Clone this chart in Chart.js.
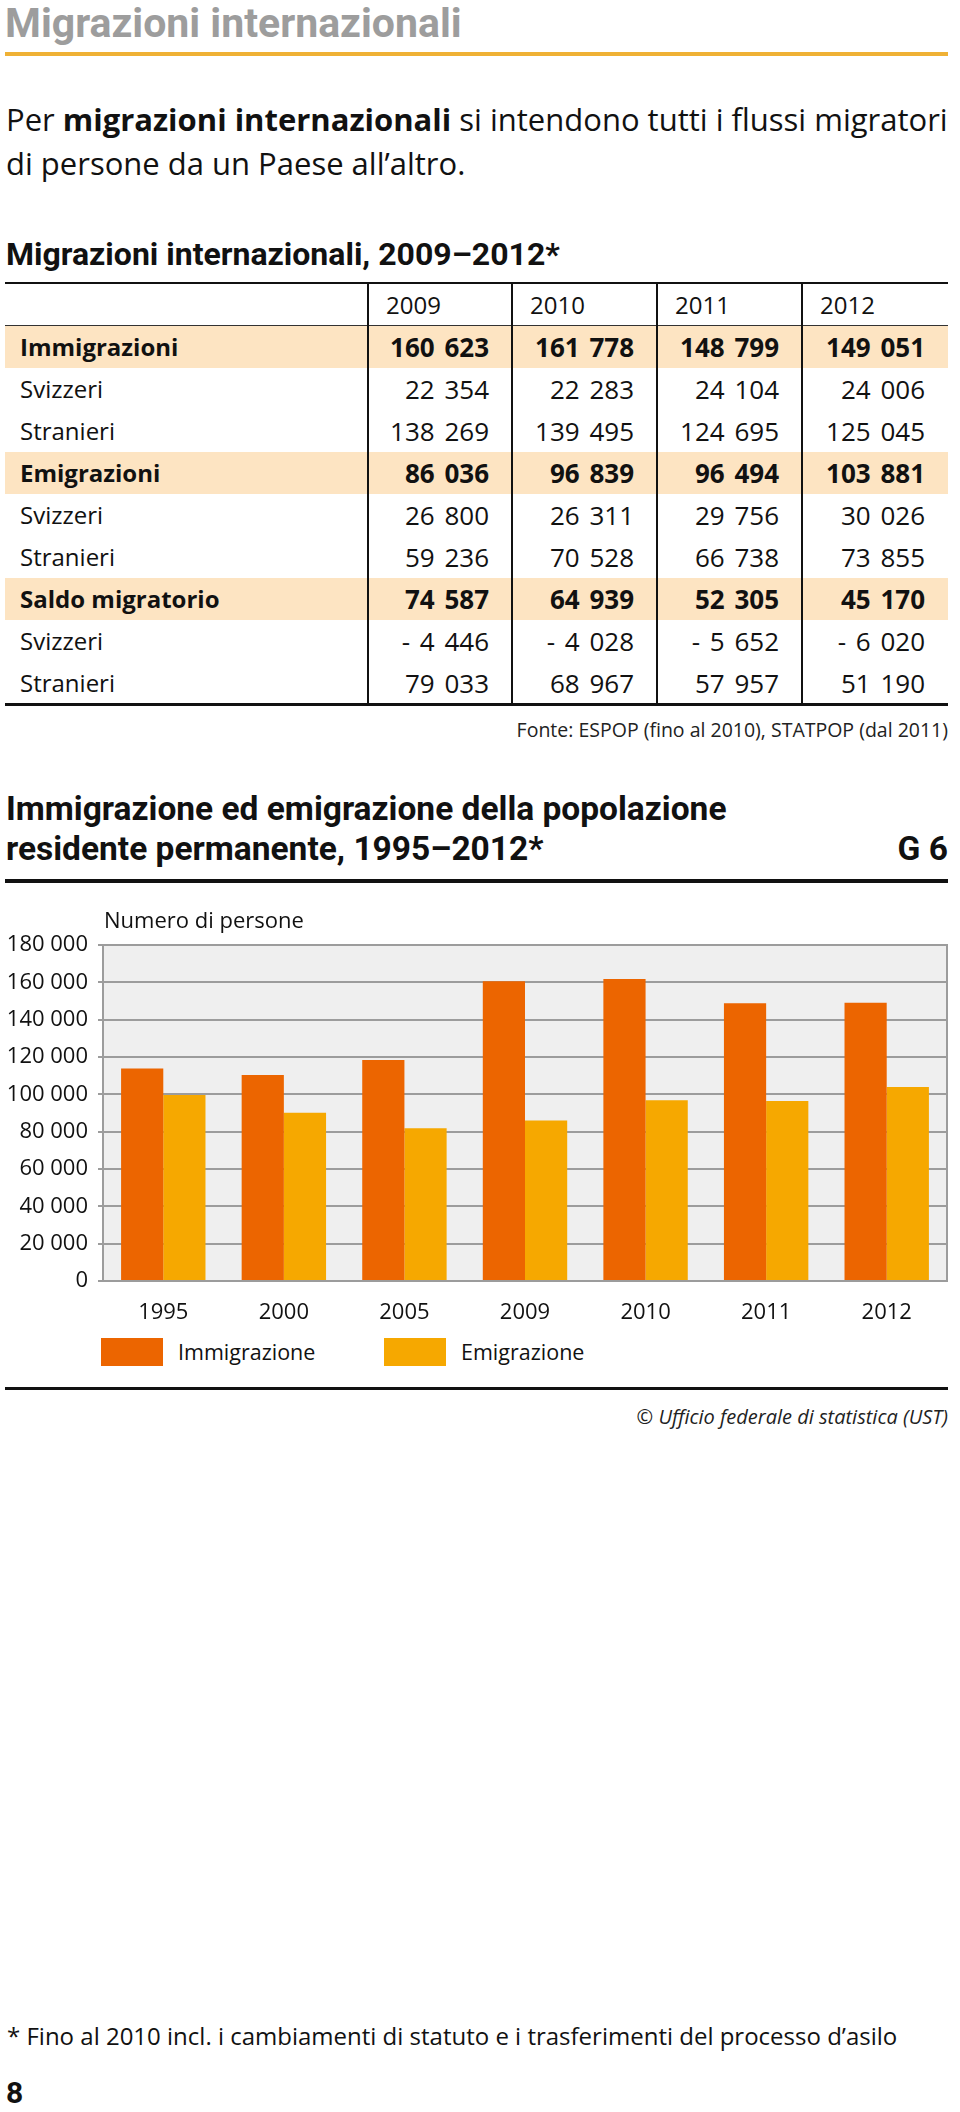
<!DOCTYPE html>
<html lang="it">
<head>
<meta charset="utf-8">
<title>Migrazioni internazionali</title>
<script src="https://cdn.jsdelivr.net/npm/chart.js@4.4.1/dist/chart.umd.min.js"></script>
<style>
  html, body { margin: 0; padding: 0; background: #fff; }
  #page { position: relative; width: 960px; height: 2112px; overflow: hidden; font-family: "Open Sans", sans-serif; color: #111; }
  .abs { position: absolute; white-space: nowrap; }
  .rb { font-family: Roboto, "Liberation Sans", sans-serif; font-weight: 700; }
  .cell { position: absolute; white-space: nowrap; font-size: 24px; }
  .num { text-align: right; font-size: 26px; word-spacing: 3px; }
  .bold { font-weight: 700; }
  #chartWrap { position: absolute; left: 0; top: 890px; width: 960px; height: 440px; }
  .lgbox { position: absolute; width: 62px; height: 28px; }
  .lgtxt { position: absolute; font-size: 21.5px; line-height: 28px; white-space: nowrap; color: #111; }
</style>
</head>
<body>
<div id="page">
  <div class="abs rb" style="left:5px; top:3px; font-size:41px; line-height:41px; color:#9d9d9d;">Migrazioni internazionali</div>
  <div class="abs" style="left:5px; top:52px; width:943px; height:4px; background:#efb135;"></div>

  <div class="abs" style="left:6px; top:97px; font-size:31px; line-height:44px; color:#111;">Per <b>migrazioni internazionali</b> si intendono tutti i flussi migratori<br>di persone da un Paese all’altro.</div>

  <div class="abs rb" style="left:6px; top:238px; font-size:32px; line-height:32px; color:#111;">Migrazioni internazionali, 2009–2012*</div>

  <div id="table"></div>

  <div class="abs" style="right:12px; top:718px; font-size:19.5px; line-height:24px; color:#222;">Fonte: ESPOP (fino al 2010), STATPOP (dal 2011)</div>

  <div class="abs rb" style="left:6px; top:789px; font-size:33.5px; line-height:40px; color:#111;">Immigrazione ed emigrazione della popolazione<br>residente permanente, 1995–2012*</div>
  <div class="abs rb" style="right:12px; top:829px; font-size:33.5px; line-height:40px; color:#111;">G 6</div>
  <div class="abs" style="left:5px; top:879px; width:943px; height:4px; background:#111;"></div>

  <div id="chartWrap"><canvas id="chart"></canvas></div>
  <div id="legend"></div>

  <div class="abs" style="left:5px; top:1387px; width:943px; height:3px; background:#111;"></div>
  <div class="abs" style="right:12px; top:1404px; font-size:20px; line-height:26px; font-style:italic; color:#222;">© Ufficio federale di statistica (UST)</div>

  <div class="abs" style="left:7px; top:2021px; font-size:24px; line-height:30px; color:#111;">* Fino al 2010 incl. i cambiamenti di statuto e i trasferimenti del processo d’asilo</div>
  <div class="abs rb" style="left:6px; top:2078px; font-size:30px; line-height:30px; color:#111;">8</div>
</div>

<script>
// ---------- Data ----------
const tableYears = ['2009', '2010', '2011', '2012'];
const rowLabels = ['Immigrazioni', 'Svizzeri', 'Stranieri', 'Emigrazioni', 'Svizzeri', 'Stranieri', 'Saldo migratorio', 'Svizzeri', 'Stranieri'];
const immigrazioni   = [160623, 161778, 148799, 149051];
const immSvizzeri    = [22354, 22283, 24104, 24006];
const immStranieri   = [138269, 139495, 124695, 125045];
const emigrazioni    = [86036, 96839, 96494, 103881];
const emiSvizzeri    = [26800, 26311, 29756, 30026];
const emiStranieri   = [59236, 70528, 66738, 73855];
const saldo          = [74587, 64939, 52305, 45170];
const saldoSvizzeri  = [-4446, -4028, -5652, -6020];
const saldoStranieri = [79033, 68967, 57957, 51190];
const totalRows = [0, 3, 6];

const chartYears = ['1995', '2000', '2005', '2009', '2010', '2011', '2012'];
const immigrazione = [113900, 110300, 118400, 160623, 161778, 148799, 149051];
const emigrazione  = [99600, 90100, 81800, 86036, 96839, 96494, 103881];
const seriesNames = ['Immigrazione', 'Emigrazione'];
const yTicksMax = 180000;
const yTicksStep = 20000;

// ---------- Helpers ----------
const SP = '\u00a0';
function fmt(v) {
  const s = String(Math.abs(v)).replace(/\B(?=(\d{3})+(?!\d))/g, SP);
  return (v < 0 ? '-' + SP : '') + s;
}

// ---------- Table ----------
(function buildTable() {
  const rowValues = [immigrazioni, immSvizzeri, immStranieri, emigrazioni, emiSvizzeri, emiStranieri, saldo, saldoSvizzeri, saldoStranieri];
  const cols = [5, 368, 512, 657, 802, 948];
  const top = 283, headerH = 43, rowH = 42;
  const t = document.getElementById('table');
  let html = '';
  rowLabels.forEach((lab, r) => {
    const y = top + headerH + r * rowH;
    if (totalRows.includes(r)) {
      html += `<div class="abs" style="left:${cols[0]}px; top:${y}px; width:${cols[5]-cols[0]}px; height:${rowH}px; background:#fde4c2;"></div>`;
    }
  });
  html += `<div class="abs" style="left:5px; top:${top-1}px; width:943px; height:2px; background:#111;"></div>`;
  html += `<div class="abs" style="left:5px; top:${top+headerH-1}px; width:943px; height:1px; background:#333;"></div>`;
  const bottom = top + headerH + rowLabels.length * rowH;
  html += `<div class="abs" style="left:5px; top:${bottom-1}px; width:943px; height:3px; background:#111;"></div>`;
  for (let i = 1; i <= 4; i++) {
    html += `<div class="abs" style="left:${cols[i]-1}px; top:${top}px; width:2px; height:${bottom-top}px; background:#111;"></div>`;
  }
  tableYears.forEach((yr, i) => {
    html += `<div class="cell" style="left:${cols[i+1]+18}px; top:${top+1}px; line-height:${headerH-2}px;">${yr}</div>`;
  });
  rowLabels.forEach((lab, r) => {
    const y = top + headerH + r * rowH;
    const b = totalRows.includes(r) ? ' bold' : '';
    html += `<div class="cell${b}" style="left:20px; top:${y}px; line-height:${rowH}px;">${lab}</div>`;
    rowValues[r].forEach((v, i) => {
      const right = 960 - (cols[i+2] - 23);
      html += `<div class="cell num${b}" style="right:${right}px; top:${y}px; line-height:${rowH}px;">${fmt(v)}</div>`;
    });
  });
  t.innerHTML = html;
})();

// ---------- Chart ----------
const colors = ['#ec6500', '#f6a800'];

const plotFrame = {
  id: 'plotFrame',
  beforeDraw(chart) {
    const { ctx, chartArea: a } = chart;
    ctx.save();
    ctx.fillStyle = '#efefef';
    ctx.fillRect(a.left, a.top, a.width, a.height);
    ctx.strokeStyle = '#9c9c9c';
    ctx.lineWidth = 2;
    ctx.strokeRect(a.left, a.top, a.width, a.height);
    ctx.restore();
  },
  afterDraw(chart) {
    const { ctx, chartArea: a } = chart;
    ctx.save();
    ctx.font = '22px "Open Sans"';
    ctx.fillStyle = '#111';
    ctx.textAlign = 'left';
    ctx.textBaseline = 'alphabetic';
    ctx.fillText('Numero di persone', a.left + 1, a.top - 17);
    ctx.restore();
  }
};

Chart.defaults.font.family = '"Open Sans", sans-serif';
Chart.defaults.color = '#111';

const chart = new Chart(document.getElementById('chart'), {
  type: 'bar',
  data: {
    labels: chartYears,
    datasets: [
      { label: seriesNames[0], data: immigrazione, backgroundColor: colors[0], borderWidth: 0 },
      { label: seriesNames[1], data: emigrazione, backgroundColor: colors[1], borderWidth: 0 }
    ]
  },
  options: {
    responsive: true,
    maintainAspectRatio: false,
    animation: false,
    layout: { padding: { left: 0, right: 13, top: 55, bottom: 0 } },
    datasets: { bar: { categoryPercentage: 0.7, barPercentage: 1.0 } },
    plugins: { legend: { display: false }, tooltip: { enabled: false }, title: { display: false } },
    scales: {
      x: {
        grid: { display: false, drawTicks: false },
        border: { display: false },
        ticks: { padding: 19, font: { size: 22 }, color: '#111' },
        afterFit(scale) { scale.height = 49; }
      },
      y: {
        min: 0,
        max: yTicksMax,
        grid: { color: '#9c9c9c', lineWidth: 2, tickLength: 5, drawTicks: true },
        border: { display: false },
        ticks: {
          stepSize: yTicksStep,
          padding: 10,
          font: { size: 22 },
          color: '#111',
          callback: (v) => fmt(v)
        },
        afterFit(scale) { scale.width = 103; }
      }
    }
  },
  plugins: [plotFrame]
});

// ---------- Legend (built from the chart datasets) ----------
(function buildLegend() {
  const lg = document.getElementById('legend');
  const boxLefts = [101, 384];
  let html = '';
  chart.data.datasets.forEach((ds, i) => {
    html += `<div class="lgbox" style="left:${boxLefts[i]}px; top:1338px; background:${ds.backgroundColor};"></div>`;
    html += `<div class="lgtxt" style="left:${boxLefts[i] + 77}px; top:1338px;">${ds.label}</div>`;
  });
  lg.innerHTML = html;
})();
</script>
</body>
</html>
